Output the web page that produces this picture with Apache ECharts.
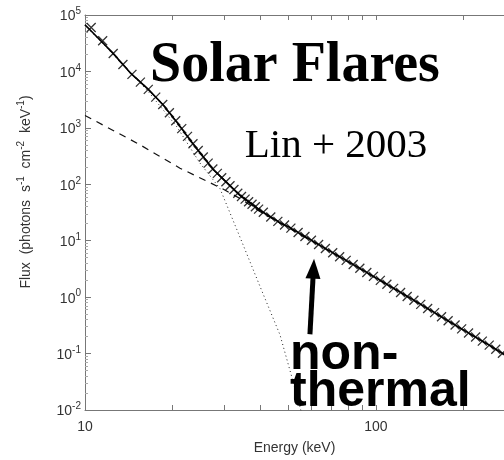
<!DOCTYPE html>
<html>
<head>
<meta charset="utf-8">
<script src="https://cdn.jsdelivr.net/npm/echarts@6/dist/echarts.min.js"></script>
<style>html,body{margin:0;padding:0;background:#fff}#c{width:504px;height:460px}</style>
</head>
<body>
<div id="c"></div>
<script>
// Total fit (solid)
const fitE = [10.0, 12.38, 14.28, 16.47, 18.54, 20.7, 23.5, 27.5, 29.8, 34.1, 39.9, 46.8, 50.6, 65.8, 86.0, 111.7, 145.0, 189.8, 246.5, 275.4];
const fitF = [67200, 22000, 9550, 4860, 2570, 1256, 523, 186, 125, 63.5, 34.9, 20.8, 17.1, 7.70, 3.47, 1.57, 0.707, 0.306, 0.138, 0.0966];
// Non-thermal component (dashed)
const nonthE = [10.0, 15.45, 21.2, 29.6, 34.1, 39.9, 46.8, 65.8, 111.7, 189.8, 275.4];
const nonthF = [1660, 502, 193, 83.9, 56.0, 33.0, 20.6, 7.60, 1.56, 0.305, 0.0965];
// Thermal component (dotted)
const thermE = [10.0, 12.38, 16.47, 20.7, 24.8, 29.1, 34.1, 39.9, 46.8, 51.8, 54.8, 56.1];
const thermF = [65500, 21000, 4450, 1040, 240, 83.9, 11.5, 1.57, 0.214, 0.033, 0.0113, 0.0072];
// Observed spectrum (crosses)
const dataE = [10.5, 11.5, 12.5, 13.5, 14.5, 15.5, 16.5, 17.5, 18.5, 19.5, 20.5, 21.5, 22.5, 23.5, 24.5, 25.5, 26.5, 27.5, 28.5, 29.5, 30.5, 31.5, 32.5, 33.5, 34.5, 35.5, 36.5, 37.5, 38.5, 39.5,
  41, 43.5, 46, 48.5, 51, 54, 57, 60, 63.5, 67, 71, 75, 79, 83.5, 88, 93, 98, 103.5, 109, 115, 121.5, 128, 135, 142.5, 150.5, 159, 168, 177, 187, 197, 208, 220, 232, 245, 258, 272];
const dataF = [60000, 35000, 20800, 13300, 8870, 6470, 4810, 3510, 2600, 1850, 1340, 968, 706, 523, 397, 305, 237, 186, 156, 131, 111, 94.4, 80.7, 69.3, 60.7, 54.5, 49.0, 44.2, 40.0, 36.3,
  32.0, 26.4, 22.0, 19.0, 16.7, 14.0, 11.9, 10.2, 8.58, 7.30, 6.14, 5.21, 4.48, 3.79, 3.24, 2.74, 2.33, 1.98, 1.69, 1.43, 1.21, 1.03, 0.879, 0.745, 0.630, 0.531, 0.448, 0.381, 0.321, 0.274, 0.232, 0.196, 0.166, 0.141, 0.119, 0.101];
// Ticks
const xLabelTicks = [10, 100];
const xTicks = [10, 20, 30, 40, 50, 60, 70, 80, 90, 100, 200];
const yMajorTicks = [0.01, 0.1, 1, 10, 100, 1000, 10000, 100000];
const yMinorTicks = [];
[0.01, 0.1, 1, 10, 100, 1000, 10000].forEach(d => { for (let k = 2; k <= 9; k++) yMinorTicks.push(+(d * k).toPrecision(3)); });
// Arrow annotation (data coordinates: tail -> tip)
const arrowFrom = [59.3, 0.22];
const arrowTo = [61.0, 3.2];

const zip = (a, b) => a.map((v, i) => [v, b[i]]);
const axisGrey = '#777';
const labelCol = '#333';

const chart = echarts.init(document.getElementById('c'), null, {renderer: 'canvas'});
chart.setOption({
  animation: false,
  backgroundColor: '#fff',
  grid: {left: 85, right: 0, top: 15, bottom: 40, containLabel: false},
  xAxis: [{
    type: 'log', min: 10, max: 275.4, position: 'bottom',
    name: 'Energy (keV)', nameLocation: 'middle', nameGap: 31,
    nameTextStyle: {fontFamily: 'Liberation Sans', fontSize: 14, color: labelCol},
    axisLine: {show: true, lineStyle: {color: axisGrey, width: 1}},
    axisTick: {show: true, inside: true, length: 5, customValues: xTicks, lineStyle: {color: axisGrey}},
    minorTick: {show: false},
    axisLabel: {show: true, customValues: xLabelTicks, margin: 10, fontFamily: 'Liberation Sans', fontSize: 14, color: labelCol},
    splitLine: {show: false}
  }, {
    type: 'log', min: 10, max: 275.4, position: 'top',
    axisLine: {show: true, lineStyle: {color: axisGrey, width: 1}},
    axisTick: {show: true, inside: true, length: 5, customValues: xTicks, lineStyle: {color: axisGrey}},
    axisLabel: {show: false}, splitLine: {show: false}
  }],
  yAxis: [{
    type: 'log', min: 0.01, max: 100000, position: 'left',
    axisLine: {show: true, lineStyle: {color: axisGrey, width: 1}},
    axisTick: {show: true, inside: true, length: 6, customValues: yMajorTicks, lineStyle: {color: axisGrey}},
    axisLabel: {
      show: true, customValues: yMajorTicks, margin: 4,
      formatter: v => '{b|10}{s|' + Math.round(Math.log10(v)) + '}',
      rich: {
        b: {fontFamily: 'Liberation Sans', fontSize: 14, color: labelCol, lineHeight: 17, verticalAlign: 'bottom'},
        s: {fontFamily: 'Liberation Sans', fontSize: 10, color: labelCol, verticalAlign: 'top'}
      }
    },
    splitLine: {show: false}
  }, {
    type: 'log', min: 0.01, max: 100000, position: 'left',
    axisLine: {show: false},
    axisTick: {show: true, inside: true, length: 3, customValues: yMinorTicks, lineStyle: {color: '#aaa'}},
    axisLabel: {show: false}, splitLine: {show: false}
  }],
  series: [
    {type: 'line', name: 'thermal', data: zip(thermE, thermF), showSymbol: false, symbol: 'none', clip: true, z: 1,
      lineStyle: {color: '#222', width: 1, type: [1, 3]}},
    {type: 'line', name: 'nonthermal', data: zip(nonthE, nonthF), showSymbol: false, symbol: 'none', clip: true, z: 1,
      lineStyle: {color: '#111', width: 1.2, type: [7, 6]}},
    {type: 'line', name: 'fit', data: zip(fitE, fitF), showSymbol: false, symbol: 'none', clip: true, z: 3,
      lineStyle: {color: '#000', width: 1.6},
      markLine: {
        silent: true, symbol: ['none', 'triangle'], symbolSize: [15, 20],
        label: {show: false},
        lineStyle: {color: '#000', width: 5, type: 'solid'},
        data: [[{coord: arrowFrom}, {coord: arrowTo}]]
      }},
    {type: 'scatter', name: 'data', data: zip(dataE, dataF), clip: true, z: 4,
      symbol: 'path://M0,0L10,10M10,0L0,10', symbolSize: 9,
      itemStyle: {color: 'none', borderColor: '#000', borderWidth: 1.3}}
  ],
  graphic: [
    {type: 'text', x: 25, y: 192, rotation: Math.PI / 2,
      style: {
        text: '{n|Flux  (photons  s}{s|-1}{n|  cm}{s|-2}{n|  keV}{s|-1}{n|)}',
        align: 'center', verticalAlign: 'middle',
        rich: {
          n: {fontFamily: 'Liberation Sans', fontSize: 14, fill: labelCol, lineHeight: 17, verticalAlign: 'bottom'},
          s: {fontFamily: 'Liberation Sans', fontSize: 10, fill: labelCol, verticalAlign: 'top'}
        }
      }},
    {type: 'text', x: 295, y: 67, z: 10,
      style: {text: 'Solar Flares', font: 'bold 56px "Liberation Serif"', fill: '#000', align: 'center', verticalAlign: 'middle'}},
    {type: 'text', x: 336, y: 146, z: 10,
      style: {text: 'Lin + 2003', font: '41px "Liberation Serif"', fill: '#000', align: 'center', verticalAlign: 'middle'}},
    {type: 'text', x: 290, y: 355, z: 10,
      style: {text: 'non-', font: 'bold 50px "Liberation Sans"', fill: '#000', align: 'left', verticalAlign: 'middle'}},
    {type: 'text', x: 290, y: 392, z: 10,
      style: {text: 'thermal', font: 'bold 50px "Liberation Sans"', fill: '#000', align: 'left', verticalAlign: 'middle'}}
  ]
});
</script>
</body>
</html>
